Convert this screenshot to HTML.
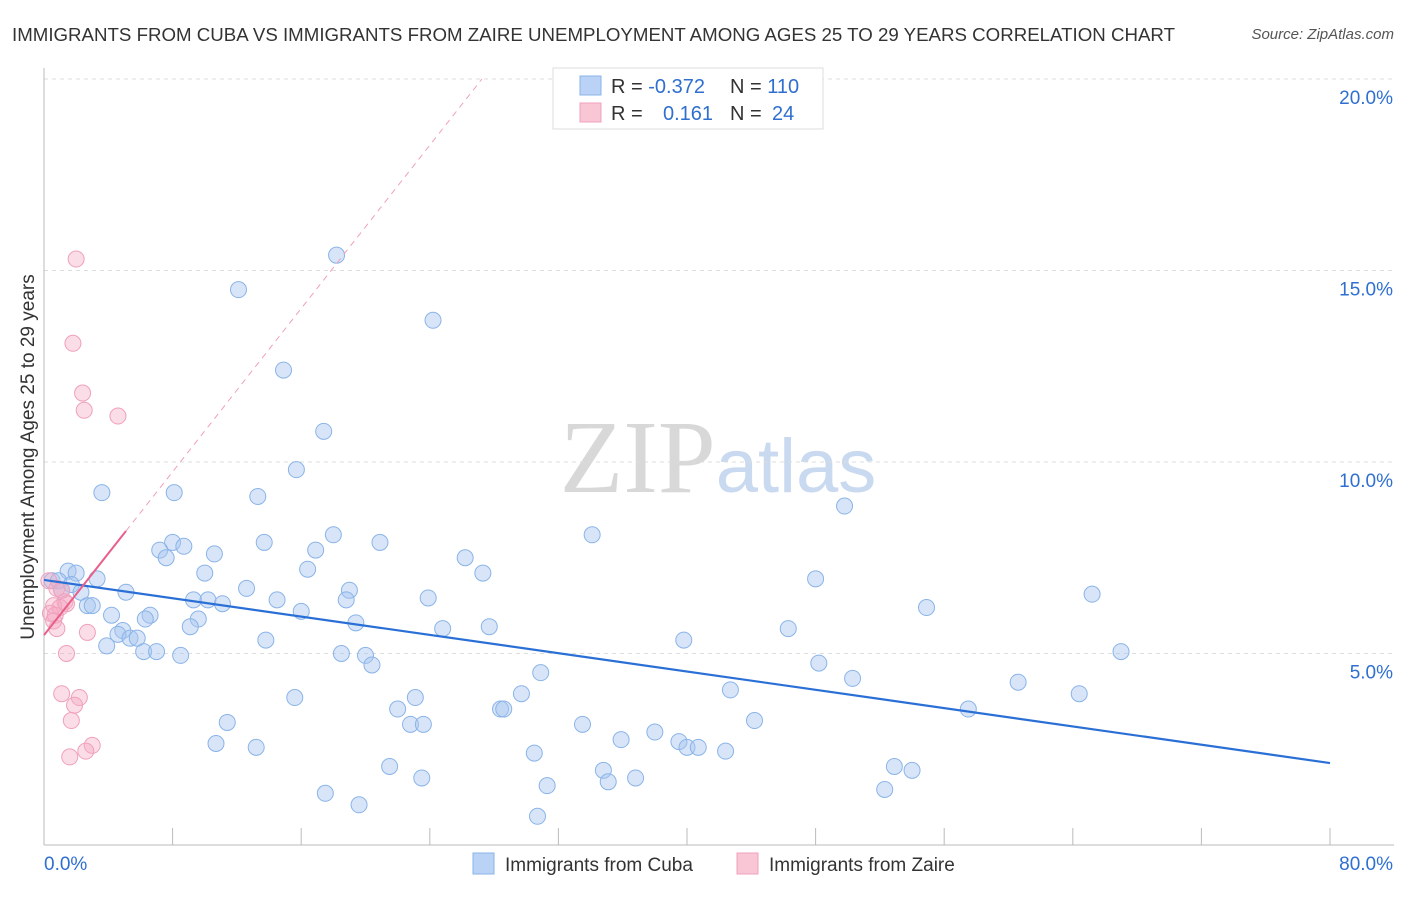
<!DOCTYPE html>
<html><head><meta charset="utf-8"><style>
body{margin:0;background:#fff;font-family:"Liberation Sans",sans-serif;}
svg text{font-family:"Liberation Sans",sans-serif;}
</style></head><body>
<svg id="chart" width="1406" height="892" viewBox="0 0 1406 892" xmlns="http://www.w3.org/2000/svg">
<text x="12" y="41" font-size="18" fill="#333" textLength="1163" lengthAdjust="spacingAndGlyphs">IMMIGRANTS FROM CUBA VS IMMIGRANTS FROM ZAIRE UNEMPLOYMENT AMONG AGES 25 TO 29 YEARS CORRELATION CHART</text>
<text x="1394" y="39" font-size="15" fill="#555" font-style="italic" text-anchor="end">Source: ZipAtlas.com</text>
<text x="718" y="492" font-size="104" fill="#ddd" text-anchor="middle"><tspan fill="#d8d8d8" style="font-family:'Liberation Serif'">ZIP</tspan><tspan fill="#c9d9f0" font-size="76">atlas</tspan></text>
<g id="grid"></g>
<g id="axes"></g>
<g id="pts"></g>
<g id="trend"></g>
<text transform="translate(34,457) rotate(-90)" font-size="19" fill="#333" text-anchor="middle">Unemployment Among Ages 25 to 29 years</text>
<g>
<rect x="553" y="68" width="270" height="61" fill="#fff" stroke="#ddd"/>
<rect x="580" y="76" width="21" height="19" fill="#b9d2f5" stroke="#8ab4e8"/>
<rect x="580" y="103" width="21" height="19" fill="#f9c6d6" stroke="#f0a0bc"/>
<text x="611" y="93" font-size="20" fill="#333">R = <tspan fill="#2f6fd0">-0.372</tspan><tspan x="730">N = </tspan><tspan fill="#2f6fd0">110</tspan></text>
<text x="611" y="120" font-size="20" fill="#333">R = <tspan x="663" fill="#2f6fd0">0.161</tspan><tspan x="730">N = </tspan><tspan x="772" fill="#2f6fd0">24</tspan></text>
</g>
<g>
<rect x="473" y="853" width="21" height="21" fill="#b9d2f5" stroke="#8ab4e8"/>
<text x="505" y="871" font-size="19" fill="#333">Immigrants from Cuba</text>
<rect x="737" y="853" width="21" height="21" fill="#f9c6d6" stroke="#f0a0bc"/>
<text x="769" y="871" font-size="19" fill="#333">Immigrants from Zaire</text>
</g>
</svg>
<script>
const xTicks=[0,8,16,24,32,40,48,56,64,72,80];
const yTicks=[5,10,15,20];
const yTickLabels=["5.0%","10.0%","15.0%","20.0%"];
const xEndLabels=["0.0%","80.0%"];
const cubaX=[18.2,12.1,24.2,14.9,17.4,15.7,3.6,8.1,13.3,49.8,34.1,18.0,20.9,13.7,8.0,8.7,7.2,7.6,10.6,16.9,26.2,27.3,16.4,10.0,1.5,2.0,0.5,0.9,3.3,1.7,1.1,2.3,5.1,12.6,19.0,48.0,65.2,9.3,10.2,11.1,14.5,18.8,23.9,2.7,3.0,16.0,54.9,4.2,6.6,6.3,9.6,9.1,19.4,24.8,27.7,4.9,4.6,5.35,5.8,3.9,13.8,39.8,46.3,6.2,7.0,8.5,18.5,20.0,20.4,67.0,48.2,30.9,50.3,60.6,64.4,42.7,29.7,15.6,23.1,22.0,28.4,28.6,57.5,11.4,22.8,23.6,33.5,44.2,38.0,35.9,10.7,13.2,39.5,40.0,40.7,42.4,30.5,21.5,52.9,54.0,34.8,23.5,36.8,35.1,31.3,17.5,52.3,19.6,30.7];
const cubaY=[15.4,14.5,13.7,12.4,10.8,9.8,9.2,9.2,9.1,8.85,8.1,8.1,7.9,7.9,7.9,7.8,7.7,7.5,7.6,7.7,7.5,7.1,7.2,7.1,7.15,7.1,6.9,6.9,6.95,6.8,6.65,6.6,6.6,6.7,6.65,6.95,6.55,6.4,6.4,6.3,6.4,6.4,6.45,6.25,6.25,6.1,6.2,6.0,6.0,5.9,5.9,5.7,5.8,5.65,5.7,5.6,5.5,5.4,5.4,5.2,5.35,5.35,5.65,5.05,5.05,4.95,5.0,4.95,4.7,5.05,4.75,4.5,4.35,4.25,3.95,4.05,3.95,3.85,3.85,3.55,3.55,3.55,3.55,3.2,3.15,3.15,3.15,3.25,2.95,2.75,2.65,2.55,2.7,2.55,2.55,2.45,2.4,2.05,2.05,1.95,1.95,1.75,1.75,1.65,1.55,1.35,1.45,1.05,0.75];
const zaireX=[2.0,1.8,2.4,2.5,4.6,0.3,0.8,1.1,1.3,1.4,0.6,1.0,0.4,0.7,0.6,0.8,2.7,1.4,1.1,2.2,1.9,1.7,3.0,2.6,1.6];
const zaireY=[15.3,13.1,11.8,11.35,11.2,6.9,6.7,6.65,6.35,6.3,6.25,6.2,6.05,6.0,5.85,5.65,5.55,5.0,3.95,3.85,3.65,3.25,2.6,2.45,2.3];
const cubaTrend=[6.92,2.14];
const zaireTrend=[5.48,0.533]; // intercept, slope
const zaireSolidEnd=5.1;

const NS="http://www.w3.org/2000/svg";
const X=v=>44+v/80*1286;
const Y=v=>845-v/5*191.5;
function mk(tag,attrs,parent){const e=document.createElementNS(NS,tag);for(const k in attrs)e.setAttribute(k,attrs[k]);parent.appendChild(e);return e;}
const grid=document.getElementById('grid'),axes=document.getElementById('axes'),pts=document.getElementById('pts'),trend=document.getElementById('trend');
yTicks.forEach((t,i)=>{
 const l=mk('line',{x1:44,x2:1394,y1:Y(t),y2:Y(t),stroke:'#ddd','stroke-dasharray':'4,4'},grid);
 
 
 const tx=mk('text',{x:1393,y:Y(t)+25,'font-size':19,fill:'#2f6fd0','text-anchor':'end'},axes);
 tx.textContent=yTickLabels[i];
 
 
});
const ya=mk('line',{x1:44,x2:44,y1:68,y2:845,stroke:'#bbb'},axes);


const xa=mk('line',{x1:44,x2:1394,y1:845,y2:845,stroke:'#bbb'},axes);


xTicks.forEach(t=>{
 const l=mk('line',{x1:X(t),x2:X(t),y1:828,y2:845,stroke:'#bbb'},axes);
 
 
});
[[0,'start'],[80,'end']].forEach(([v,a],i)=>{
 const tx=mk('text',{x:i?1393:44,y:870,'font-size':19,fill:'#2f6fd0','text-anchor':a},axes);
 tx.textContent=xEndLabels[i];
 
 
});
cubaX.forEach((x,i)=>{
 const c=mk('circle',{cx:X(x),cy:Y(cubaY[i]),r:8,fill:'rgba(168,198,240,0.45)',stroke:'#8ab4e8','stroke-width':1},pts);
 
 
});
zaireX.forEach((x,i)=>{
 const c=mk('circle',{cx:X(x),cy:Y(zaireY[i]),r:8,fill:'rgba(245,170,195,0.4)',stroke:'#f0a0bc','stroke-width':1},pts);
 
 
});
const bl=mk('line',{x1:X(0),y1:Y(cubaTrend[0]),x2:X(80),y2:Y(cubaTrend[1]),stroke:'#2a6fd6','stroke-width':2.2},trend);


const xEnd=(20-zaireTrend[0])/zaireTrend[1];
const dl=mk('line',{x1:X(zaireSolidEnd),y1:Y(zaireTrend[0]+zaireTrend[1]*zaireSolidEnd),x2:X(xEnd),y2:Y(20),stroke:'#f0a0bc','stroke-width':1,'stroke-dasharray':'6,5'},trend);


const pl=mk('line',{x1:X(0),y1:Y(zaireTrend[0]),x2:X(zaireSolidEnd),y2:Y(zaireTrend[0]+zaireTrend[1]*zaireSolidEnd),stroke:'#e8608a','stroke-width':2},trend);


</script>
</body></html>
